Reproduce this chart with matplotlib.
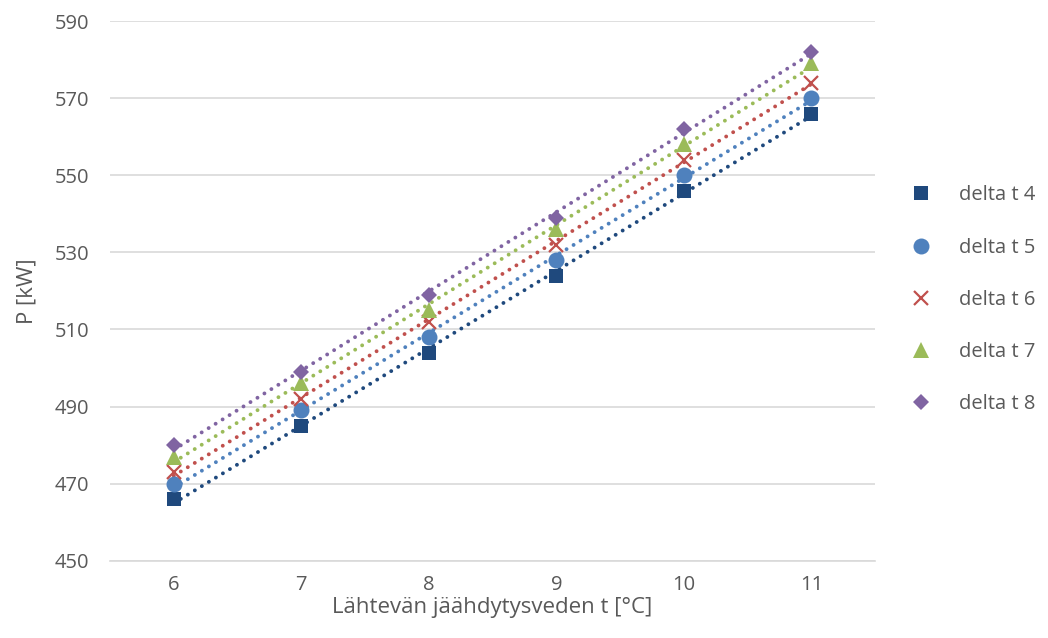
import numpy as np
import matplotlib.pyplot as plt

plt.rcParams['font.family'] = ['Open Sans', 'DejaVu Sans']

t_out = [6, 7, 8, 9, 10, 11]
delta_labels = ['delta t 4', 'delta t 5', 'delta t 6', 'delta t 7', 'delta t 8']
p_d4 = [466, 485, 504, 524, 546, 566]
p_d5 = [470, 489, 508, 528, 550, 570]
p_d6 = [473, 492, 512, 532, 554, 574]
p_d7 = [477, 496, 515, 536, 558, 579]
p_d8 = [480, 499, 519, 539, 562, 582]
y_ticks = [450, 470, 490, 510, 530, 550, 570, 590]

series = [p_d4, p_d5, p_d6, p_d7, p_d8]
colors = ['#1F497D', '#4F81BD', '#C0504D', '#9BBB59', '#8064A2']
markers = ['s', 'o', 'x', '^', 'D']
sizes = [10.5, 11.5, 10, 11.5, 8.5]
text_col = '#595959'

fig = plt.figure(figsize=(10.48, 6.38), dpi=100)
ax = fig.add_axes([0.105, 0.121, 0.73, 0.846])

x = np.array(t_out, dtype=float)
for vals, c, m, s, lab in zip(series, colors, markers, sizes, delta_labels):
    # linear trend line, dotted
    k, b = np.polyfit(x, vals, 1)
    ax.plot(x, k * x + b, color=c, linestyle=(0, (0.01, 2.1)), linewidth=2.8,
            dash_capstyle='round', zorder=2)
    if m == 'x':
        ax.plot(x, vals, linestyle='none', marker=m, color=c, markersize=s,
                markeredgewidth=1.6, label=lab, zorder=3)
    else:
        ax.plot(x, vals, linestyle='none', marker=m, color=c, markersize=s,
                markeredgewidth=0, label=lab, zorder=3)

ax.set_xlim(5.5, 11.5)
ax.set_ylim(450, 590)
ax.set_xticks(t_out)
ax.set_yticks(y_ticks)
ax.grid(axis='y', color='#D9D9D9', linewidth=1.2)
ax.set_axisbelow(True)
for side in ['top', 'right', 'left']:
    ax.spines[side].set_visible(False)
ax.spines['bottom'].set_color('#D9D9D9')
ax.spines['bottom'].set_linewidth(1.2)
ax.tick_params(axis='x', length=0, labelsize=14.5, colors=text_col, pad=10)
ax.tick_params(axis='y', length=0, labelsize=14.5, colors=text_col, pad=15)

ax.set_xlabel('Lähtevän jäähdytysveden t [°C]', fontsize=16, color=text_col, labelpad=2)
ax.set_ylabel('P [kW]', fontsize=16, color=text_col, labelpad=12)

handles, labels = ax.get_legend_handles_labels()
leg = fig.legend(handles, labels, loc='center left', bbox_to_anchor=(0.852, 0.53),
                 frameon=False, fontsize=14.5, labelspacing=1.6, handletextpad=1.4,
                 handlelength=1.0)
for t in leg.get_texts():
    t.set_color(text_col)

fig.savefig('out.png', dpi=100)
